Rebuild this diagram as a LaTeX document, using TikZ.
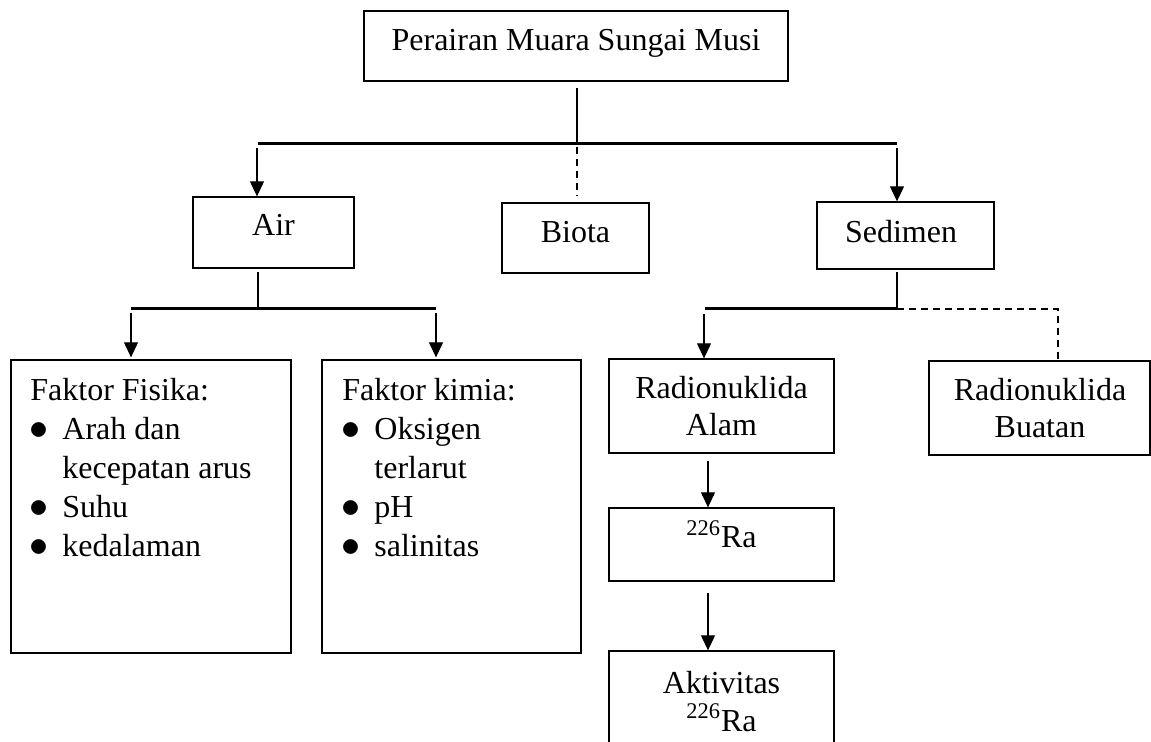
\documentclass[tikz,border=0pt]{standalone}
\usepackage{fontspec}
\setmainfont{Liberation Serif}
\usetikzlibrary{arrows.meta}
\newcommand\bul{\makebox[16pt][l]{\hspace{-0.3pt}\scalebox{1.1}{$\bullet$}}}
\newcommand\nobul{\hspace{16pt}}
\begin{document}
\begin{tikzpicture}[x=0.5pt,y=-0.5pt,
  box/.style={draw, line width=0.65pt, inner sep=0pt},
  txt/.style={inner sep=0pt, anchor=base, font=\fontsize{16}{18.5}\selectfont},
  ltxt/.style={inner sep=0pt, anchor=base west, font=\fontsize{16}{19.5}\selectfont},
  bus/.style={line width=1.5pt},
  stem/.style={line width=1.1pt},
  arr/.style={line width=0.55pt, -{Triangle[length=7.5pt,width=7pt]}},
  dsh/.style={line width=0.8pt, dash pattern=on 3.5pt off 2.5pt}]
\useasboundingbox (0,0) rectangle (1151,742);
\clip (0,0) rectangle (1151,742);
% boxes
\node[box, minimum width=212pt, minimum height=35pt] (top) at (576,46) {};
\node[box, minimum width=80.5pt, minimum height=35.5pt] (air) at (273.5,232.5) {};
\node[box, minimum width=73.5pt, minimum height=35pt] (biota) at (575.5,238) {};
\node[box, minimum width=88.5pt, minimum height=33.5pt] (sed) at (905.5,235.5) {};
\node[box, minimum width=140pt, minimum height=146.5pt] (fis) at (151,506.5) {};
\node[box, minimum width=129.5pt, minimum height=146.5pt] (kim) at (451.5,506.5) {};
\node[box, minimum width=112.5pt, minimum height=47pt] (alam) at (721.5,406) {};
\node[box, minimum width=110.5pt, minimum height=47pt] (buatan) at (1039.5,408) {};
\node[box, minimum width=112.5pt, minimum height=36.5pt] (ra) at (721.5,544.5) {};
\node[box, minimum width=112.5pt, minimum height=54.5pt] (akt) at (721.5,705.5) {};
% texts
\node[txt] (tTop) at (576,51) {Perairan Muara Sungai Musi};
\node[txt] (tAir) at (273.5,236) {Air};
\node[txt] (tBio) at (575.5,243) {Biota};
\node[txt] (tSed) at (901,243) {Sedimen};
\node[ltxt] (tFis) at (30,401) {\begin{tabular}[t]{@{}l@{}}Faktor Fisika:\\ \bul Arah dan\\ \nobul kecepatan arus\\ \bul Suhu\\ \bul kedalaman\end{tabular}};
\node[ltxt] (tKim) at (342,401) {\begin{tabular}[t]{@{}l@{}}Faktor kimia:\\ \bul Oksigen\\ \nobul terlarut\\ \bul pH\\ \bul salinitas\end{tabular}};
\node[txt] (tAlam) at (721.5,399) {\begin{tabular}[t]{@{}c@{}}Radionuklida\\Alam\end{tabular}};
\node[txt] (tBua) at (1040,401) {\begin{tabular}[t]{@{}c@{}}Radionuklida\\Buatan\end{tabular}};
\node[txt] (tRa) at (721.5,548) {\textsuperscript{226}Ra};
\node[txt] (tAkt) at (721.5,693) {\begin{tabular}[t]{@{}c@{}}Aktivitas\\\textsuperscript{226}Ra\end{tabular}};
% connectors level 1
\coordinate (j1) at (577,144);
\coordinate (bL) at (258,144);
\coordinate (bR) at (897,144);
\draw[stem] ([yshift=-3pt]top.south -| j1) -- (j1);
\draw[bus] (bL) -- (bR);
\coordinate (aL) at (257,148);
\draw[arr] (aL) -- (aL |- air.north);
\coordinate (dB) at (577,147);
\draw[dsh] (dB) -- ([yshift=3pt]dB |- biota.north);
\coordinate (aR) at (897,148);
\draw[arr] (aR) -- (aR |- sed.north);
% connectors under Air
\coordinate (c1) at (258,309);
\coordinate (c1L) at (131,309);
\coordinate (c1R) at (436,309);
\draw[stem] ([yshift=-1.5pt]air.south -| c1) -- (c1);
\draw[bus] (c1L) -- (c1R);
\coordinate (f1) at (131,313);
\draw[arr] (f1) -- ([yshift=1pt]f1 |- fis.north);
\coordinate (k1) at (436,313);
\draw[arr] (k1) -- ([yshift=1pt]k1 |- kim.north);
% connectors under Sedimen
\coordinate (c2) at (897,309);
\coordinate (c2L) at (705,309);
\coordinate (c2R) at (1058,309);
\draw[stem] ([yshift=-1pt]sed.south -| c2) -- (c2);
\draw[bus] (c2L) -- (c2);
\draw[dsh] (c2) -- (c2R) -- (c2R |- buatan.north);
\coordinate (r1) at (704,314);
\draw[arr] (r1) -- (r1 |- alam.north);
\coordinate (r2) at (708,461);
\draw[arr] (r2) -- (r2 |- ra.north);
\coordinate (r3) at (708,593);
\draw[arr] (r3) -- (r3 |- akt.north);
\end{tikzpicture}
\end{document}
